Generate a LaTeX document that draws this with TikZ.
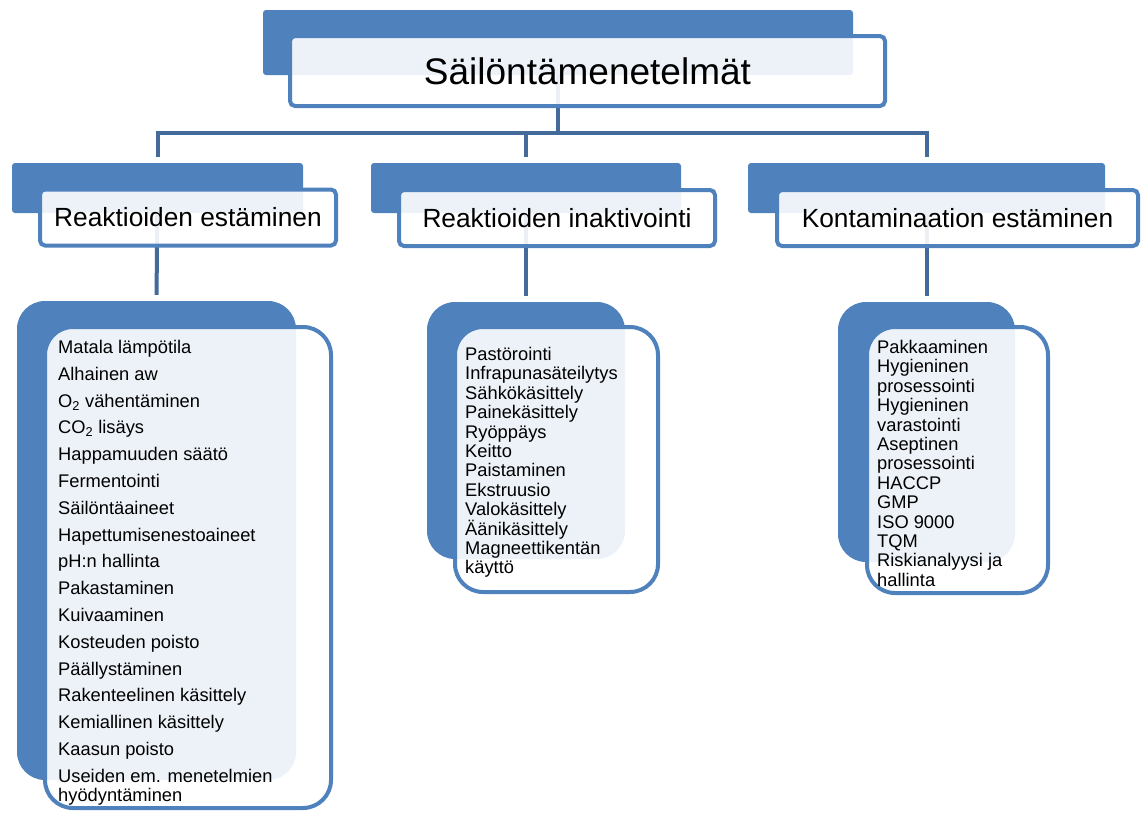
\documentclass[tikz,border=0pt]{standalone}
\usepackage{fontspec}
\setmainfont{Liberation Sans}
\usetikzlibrary{backgrounds,positioning}
\definecolor{accblue}{HTML}{4F81BD}
\definecolor{linkblue}{HTML}{44699B}
\tikzset{
  headback/.style={fill=accblue, rounded corners=3pt, inner sep=0pt},
  headfront/.style={draw=accblue, line width=4pt, fill=white, fill opacity=0.9, text opacity=1, rounded corners=5pt, inner sep=0pt},
  listback/.style={fill=accblue, rounded corners=28pt, inner sep=0pt},
  listfront/.style={draw=accblue, line width=4pt, fill=white, fill opacity=0.9, rounded corners=28pt, inner sep=0pt},
  listtext/.style={inner sep=0pt, anchor=north west, align=left, font=\fontsize{18.3}{19.4}\selectfont},
  link/.style={draw=linkblue, line width=4pt},
}

\begin{document}
\begin{tikzpicture}[x=1pt,y=-1pt]
	\useasboundingbox (0,0) rectangle (1144,812);

	% otsikko
	\node[headback, minimum width=590pt, minimum height=65pt] (topback) at (558,42.5) {};
	\node[headfront, minimum width=595pt, minimum height=70pt, font=\fontsize{37}{40}\selectfont] (top) at (587.5,71) {Säilöntämenetelmät};

	% toinen taso
	\node[headback, minimum width=291pt, minimum height=50pt] (estback) at (157.5,188) {};
	\node[headfront, minimum width=296pt, minimum height=56pt, font=\fontsize{26.3}{30}\selectfont] (est) at (188,217.5) {Reaktioiden estäminen};
	\node[headback, minimum width=310pt, minimum height=50pt] (inactback) at (526,188) {};
	\node[headfront, minimum width=316pt, minimum height=56pt, font=\fontsize{26.3}{30}\selectfont] (inact) at (557,218) {Reaktioiden inaktivointi};
	\node[headback, minimum width=357pt, minimum height=50pt] (contback) at (926.5,188) {};
	\node[headfront, minimum width=361pt, minimum height=56pt, font=\fontsize{26.3}{30}\selectfont] (cont) at (957.5,218) {Kontaminaation estäminen};

	% listat
	\node[listback, minimum width=279pt, minimum height=479pt] (estlistback) at (156.5,540.5) {};
	\node[listfront, minimum width=286pt, minimum height=481pt] (estlist) at (188,567.5) {};
	\node[listtext, font=\fontsize{18.3}{26.8}\selectfont] (esttext) at ([xshift=15pt,yshift=-15pt]estlist.north west) {Matala lämpötila\\
		Alhainen aw\\
		O\textsubscript{2} vähentäminen\\
		CO\textsubscript{2} lisäys\\
		Happamuuden säätö\\
		Fermentointi\\
		Säilöntäaineet\\
		Hapettumisenestoaineet\\
		pH:n hallinta\\
		Pakastaminen\\
		Kuivaaminen\\
		Kosteuden poisto\\
		Päällystäminen\\
		Rakenteelinen käsittely\\
		Kemiallinen käsittely\\
		Kaasun poisto\\
		Useiden em. menetelmien\\[-7.6pt]
		hyödyntäminen};

	\node[listback, minimum width=198pt, minimum height=257pt] (inactlistback) at (526,430.5) {};
	\node[listfront, minimum width=203pt, minimum height=265pt] (inactlist) at (556.5,459.5) {};
	\node[listtext] (inacttext) at ([xshift=12pt,yshift=-22pt]inactlist.north west) {Pastörointi\\
		Infrapunasäteilytys\\
		Sähkökäsittely\\
		Painekäsittely\\
		Ryöppäys\\
		Keitto\\
		Paistaminen\\
		Ekstruusio\\
		Valokäsittely\\
		Äänikäsittely\\
		Magneettikentän\\
		käyttö};

	\node[listback, minimum width=177pt, minimum height=260pt] (contlistback) at (926.5,432) {};
	\node[listfront, minimum width=181pt, minimum height=266pt] (contlist) at (957.5,460) {};
	\node[listtext] (conttext) at ([xshift=12pt,yshift=-15pt]contlist.north west) {Pakkaaminen\\
		Hygieninen\\
		prosessointi\\
		Hygieninen\\
		varastointi\\
		Aseptinen\\
		prosessointi\\
		HACCP\\
		GMP\\
		ISO 9000\\
		TQM\\
		Riskianalyysi ja\\
		hallinta};

	% yhdysviivat
	\begin{scope}[on background layer]
		\coordinate (bus) at (558,133);
		\draw[link] (topback.center) -- (bus);
		\draw[link, shorten <=6pt, shorten >=6pt] (estback.north) |- (bus) -| (contback.north);
		\draw[link, shorten <=6pt] (inactback.north) -- (inactback.north |- bus);
		\draw[link, shorten >=6pt] (estback.center) -- (estlistback.north);
		\draw[link, shorten >=6pt] (inactback.center) -- (inactlistback.north);
		\draw[link, shorten >=6pt] (contback.center) -- (contlistback.north);
	\end{scope}
\end{tikzpicture}
\end{document}
